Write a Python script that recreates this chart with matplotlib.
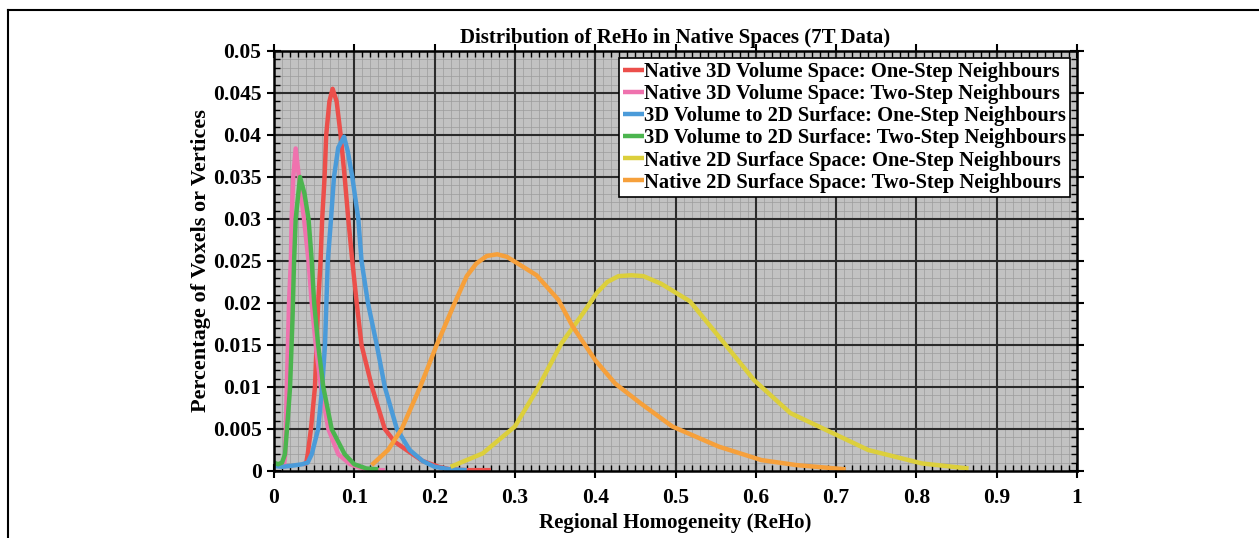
import matplotlib
matplotlib.use("Agg")
import matplotlib.pyplot as plt
from matplotlib.ticker import MultipleLocator, FuncFormatter
from matplotlib.lines import Line2D

plt.rcParams['font.family'] = ['Liberation Serif', 'DejaVu Serif']
plt.rcParams['font.weight'] = 'bold'

title = "Distribution of ReHo in Native Spaces (7T Data)"
xlabel = "Regional Homogeneity (ReHo)"
ylabel = "Percentage of Voxels or Vertices"

labels = [
    "Native 3D Volume Space: One-Step Neighbours",
    "Native 3D Volume Space: Two-Step Neighbours",
    "3D Volume to 2D Surface: One-Step Neighbours",
    "3D Volume to 2D Surface: Two-Step Neighbours",
    "Native 2D Surface Space: One-Step Neighbours",
    "Native 2D Surface Space: Two-Step Neighbours",
]
colors = ['#ec4f4b', '#ef72ae', '#4b9bd9', '#4cb54f', '#dccf3c', '#f6a03b']

red_x = [0.036, 0.040, 0.042, 0.046, 0.051, 0.055, 0.058, 0.060, 0.063, 0.065, 0.069, 0.073, 0.078,
         0.083, 0.088, 0.0925, 0.0975, 0.103, 0.109, 0.122, 0.138, 0.150, 0.165, 0.185, 0.205,
         0.219, 0.24, 0.27]
red_y = [0.0008, 0.0009, 0.002, 0.005, 0.010, 0.020, 0.025, 0.030, 0.035, 0.040, 0.044, 0.0455, 0.044,
         0.040, 0.035, 0.030, 0.025, 0.020, 0.015, 0.010, 0.005, 0.0035, 0.0025, 0.0012, 0.0005,
         0.0002, 0.0001, 0.0001]

pink_x = [0.012, 0.014, 0.016, 0.0187, 0.021, 0.022, 0.024, 0.027, 0.031, 0.0374, 0.043, 0.047,
          0.052, 0.0585, 0.0677, 0.080, 0.095, 0.110, 0.125, 0.138]
pink_y = [0.0003, 0.002, 0.010, 0.020, 0.025, 0.030, 0.035, 0.0384, 0.035, 0.030, 0.025, 0.020,
          0.015, 0.010, 0.005, 0.002, 0.0008, 0.0003, 0.0001, 0.0001]

blue_x = [0.0, 0.01, 0.02, 0.035, 0.042, 0.047, 0.055, 0.060, 0.0635, 0.067, 0.071, 0.0747, 0.080,
          0.0872, 0.092, 0.0975, 0.105, 0.109, 0.117, 0.128, 0.138, 0.153, 0.169, 0.185, 0.20,
          0.219, 0.24]
blue_y = [0.0006, 0.0005, 0.0006, 0.0008, 0.001, 0.002, 0.005, 0.010, 0.015, 0.025, 0.030, 0.035,
          0.0385, 0.0398, 0.038, 0.035, 0.030, 0.025, 0.020, 0.015, 0.010, 0.005, 0.0025, 0.0012,
          0.0005, 0.0002, 0.0001]

green_x = [0.0, 0.005, 0.010, 0.0137, 0.017, 0.020, 0.023, 0.025, 0.027, 0.0324, 0.038, 0.043,
           0.047, 0.050, 0.055, 0.0614, 0.0718, 0.088, 0.100, 0.115, 0.130]
green_y = [0.001, 0.0008, 0.001, 0.002, 0.006, 0.010, 0.018, 0.025, 0.030, 0.035, 0.033, 0.030,
           0.025, 0.020, 0.015, 0.010, 0.005, 0.002, 0.0008, 0.0003, 0.0002]

yellow_x = [0.22, 0.26, 0.30, 0.327, 0.358, 0.385, 0.402, 0.415, 0.429, 0.445, 0.460, 0.482, 0.518,
            0.554, 0.598, 0.643, 0.696, 0.740, 0.807, 0.865]
yellow_y = [0.0005, 0.0021, 0.0053, 0.0096, 0.0152, 0.0188, 0.0212, 0.0225, 0.0232, 0.0233, 0.0232,
            0.0223, 0.0202, 0.016, 0.0108, 0.0069, 0.0045, 0.0025, 0.0009, 0.0003]

orange_x = [0.1216, 0.142, 0.159, 0.182, 0.2026, 0.225, 0.240, 0.252, 0.265, 0.278, 0.29, 0.302,
            0.327, 0.354, 0.372, 0.400, 0.425, 0.456, 0.496, 0.554, 0.607, 0.651, 0.712]
orange_y = [0.0007, 0.0025, 0.005, 0.010, 0.015, 0.020, 0.0232, 0.0247, 0.0256, 0.0258, 0.0255,
            0.0248, 0.0233, 0.0204, 0.0172, 0.0132, 0.0104, 0.0081, 0.0053, 0.0029, 0.0013,
            0.0007, 0.0002]

series = [(red_x, red_y), (pink_x, pink_y), (blue_x, blue_y),
          (green_x, green_y), (yellow_x, yellow_y), (orange_x, orange_y)]

fig = plt.figure(figsize=(12.59, 5.38), dpi=100)
ax = fig.add_axes([274/1259, 1-471/538, 803/1259, 420/538])
ax.set_facecolor('#c2c2c2')

for (xs, ys), c, lab in zip(series, colors, labels):
    ax.plot(xs, ys, color=c, lw=3.2, label=lab, solid_capstyle='butt', zorder=3)

ax.set_xlim(0, 1)
ax.set_ylim(0, 0.05)
ax.xaxis.set_major_locator(MultipleLocator(0.1))
ax.xaxis.set_minor_locator(MultipleLocator(0.01))
ax.yaxis.set_major_locator(MultipleLocator(0.005))
ax.yaxis.set_minor_locator(MultipleLocator(0.001))

def fmt(v, pos):
    s = f"{v:.3f}".rstrip('0').rstrip('.')
    return s if s else "0"
ax.xaxis.set_major_formatter(FuncFormatter(fmt))
ax.yaxis.set_major_formatter(FuncFormatter(fmt))

# minor grid via axis grid (below), major grid drawn on top of it
ax.set_axisbelow(True)
ax.grid(which='minor', color='#9c9c9c', lw=0.5)
for v in ax.get_xticks():
    if 0 < v < 1:
        ax.axvline(v, color='#2b2b2b', lw=1.5, zorder=1)
for v in ax.get_yticks():
    if 0 < v < 0.05:
        ax.axhline(v, color='#2b2b2b', lw=1.5, zorder=1)

ax.tick_params(which='major', direction='inout', length=10, width=1.5,
               top=True, right=True, labelsize=15.5, pad=4)
ax.tick_params(axis='x', which='major', pad=7)
ax.tick_params(which='minor', direction='in', length=4.5, width=1.0, top=True, right=True)
for lab in ax.get_xticklabels() + ax.get_yticklabels():
    lab.set_fontweight('bold')
for sp in ax.spines.values():
    sp.set_linewidth(1.8)
    sp.set_zorder(4)

ax.set_title(title, fontsize=15, fontweight='bold', pad=6)
ax.set_xlabel(xlabel, fontsize=15, fontweight='bold', labelpad=4)
ax.set_ylabel(ylabel, fontsize=16, fontweight='bold', labelpad=1.5)

leg = ax.legend(loc='upper right', handlelength=1.0, handletextpad=0.0,
                borderpad=0.2, labelspacing=0.1, borderaxespad=0.35, fancybox=False,
                framealpha=1, edgecolor='black', prop={'weight': 'bold', 'size': 14.8})
leg.get_frame().set_linewidth(1.2)
leg.set_zorder(5)

# outer frame lines (top and left)
fig.add_artist(Line2D([8/1259, 1.0], [1-10/538, 1-10/538], color='black', lw=1.5,
                      transform=fig.transFigure))
fig.add_artist(Line2D([8/1259, 8/1259], [0, 1-10/538], color='black', lw=1.5,
                      transform=fig.transFigure))

fig.savefig('out.png', dpi=100)
